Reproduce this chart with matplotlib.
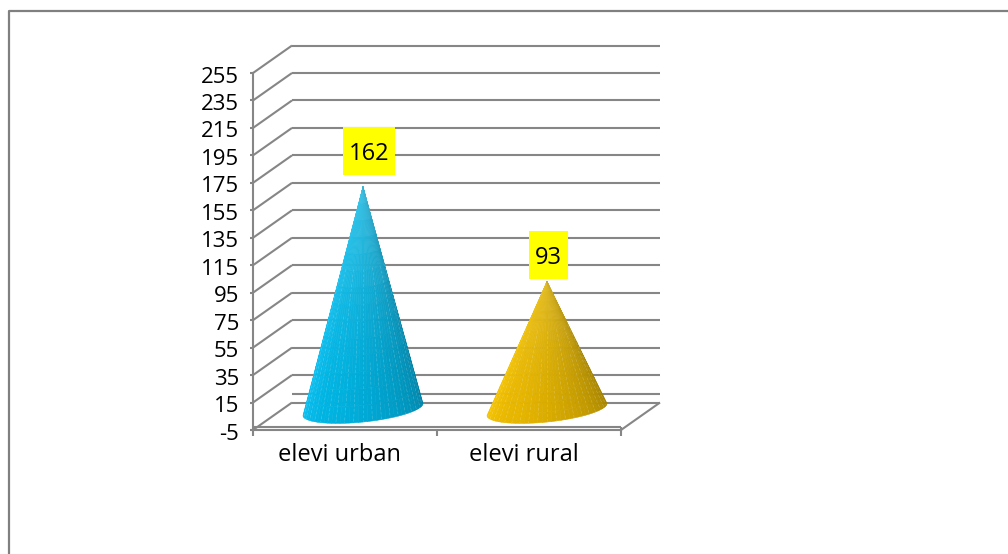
import matplotlib
matplotlib.use("Agg")
import matplotlib.pyplot as plt
import numpy as np
from matplotlib.collections import LineCollection, PolyCollection
from matplotlib.colors import to_rgb
from matplotlib.lines import Line2D
from matplotlib.patches import Rectangle
from matplotlib.transforms import ScaledTranslation

categories = ["elevi urban", "elevi rural"]
values = [162, 93]
y_ticks = [-5, 15, 35, 55, 75, 95, 115, 135, 155, 175, 195, 215, 235, 255]

W, H = 1008, 554
GRAY = "#868686"
FONT = "Open Sans"
SIZE = 16
DX, DY = 39 / 184, 20  # depth of the 3d box, in data units
MID_X = 18 / 184  # cones sit half way into the box
HALF_W, SKEW, HALF_D = 60 / 184, 4.4, 9.2  # base ellipse, data units

plt.rcParams["font.family"] = FONT

fig = plt.figure(figsize=(W / 100, H / 100), dpi=100)
ax = fig.add_axes([253 / W, 1 - 430 / H, 368 / W, 357 / H])
ax.set_xlim(-0.5, 1.5)
ax.set_ylim(-5, 255)
ax.patch.set_visible(False)

for side in ["top", "right"]:
    ax.spines[side].set_visible(False)
for side in ["left", "bottom"]:
    ax.spines[side].set_color(GRAY)
    ax.spines[side].set_linewidth(1.5)

ax.set_yticks(y_ticks)
ax.set_yticklabels([str(v) for v in y_ticks])
ax.set_xticks(range(len(categories)))
ax.set_xticklabels(categories)
ax.set_xticks([-0.5, 0.5, 1.5], minor=True)
ax.tick_params(axis="y", length=2, width=1.5, color=GRAY, labelsize=SIZE, pad=8)
ax.tick_params(axis="x", which="major", length=0, labelsize=17, pad=9.5)
ax.tick_params(axis="x", which="minor", length=4, width=1.5, color=GRAY)
shift_x = ScaledTranslation(-5.5 / 100, 0, fig.dpi_scale_trans)
for lab in ax.get_xticklabels():
    lab.set_transform(lab.get_transform() + shift_x)
shift_y = ScaledTranslation(0, -1.5 / 100, fig.dpi_scale_trans)
for lab in ax.get_yticklabels():
    lab.set_transform(lab.get_transform() + shift_y)


def line(xs, ys, lw=1.5):
    ax.plot(xs, ys, color=GRAY, lw=lw, clip_on=False, zorder=1, solid_capstyle="butt")


# back wall and left wall lines
for v in y_ticks:
    line([-0.5 + DX, 1.5 + DX], [v + DY, v + DY])
    line([-0.5, -0.5 + DX], [v, v + DY])

# floor plate
line([-0.5, 1.5], [-2.6, -2.6])
line([-0.5 + DX, 1.5 + DX], [1.2 + DY, 1.2 + DY])
line([1.5, 1.5 + DX], [-5, -5 + DY])
line([1.5, 1.5], [-5, -2.6])

# cones, built from thin facets split in height bands
cone_cols = [("#0ac0f2", "#00b4e2", "#0083a8", "#5ccbe8"), ("#f7c600", "#e8b700", "#a58300", "#e2c23c")]
t = np.linspace(np.pi, 0, 41)
bands = np.linspace(0, 1, 15)
for i, (val, cc) in enumerate(zip(values, cone_cols)):
    cx = i + MID_X
    apex = np.array([cx, val + DY / 2])
    arc = np.column_stack([cx + HALF_W * np.cos(t), DY / 2 + SKEW * np.cos(t) - HALF_D * np.sin(t)])
    first, mid, dark, tip = [np.array(to_rgb(c)) for c in cc]
    polys, cols = [], []
    for k in range(len(t) - 1):
        f = k / (len(t) - 2)
        if f < 0.25:
            base = first + (mid - first) * f / 0.25
        else:
            base = mid + (dark - mid) * ((f - 0.25) / 0.75) ** 1.4
        for r0, r1 in zip(bands[:-1], bands[1:]):
            p0 = apex + (arc[k] - apex) * r0
            p1 = apex + (arc[k] - apex) * r1
            p2 = apex + (arc[k + 1] - apex) * r1
            p3 = apex + (arc[k + 1] - apex) * r0
            polys.append([p0, p1, p2, p3])
            cols.append(base + (tip - base) * 0.75 * (1 - r1) ** 2)
    ax.add_collection(PolyCollection(polys, facecolors=cols, edgecolors=cols, linewidths=0.4,
                                     clip_on=False, zorder=3))
    # faint dashed seams between facets
    starts = [0.35, 0.75, 0.55]
    seams = []
    for n, pt in enumerate(arc[2:-2:2]):
        r = starts[n % 3]
        seams.append([apex + (pt - apex) * r, pt])
    ax.add_collection(LineCollection(seams, colors="white", linewidths=0.5, alpha=0.2,
                                     linestyles=[(0, (4, 3))], clip_on=False, zorder=4))

# data labels on yellow boxes
label_dx = [6, 1]
label_dy = [26, 18.8]
fig.canvas.draw()
rend = fig.canvas.get_renderer()
inv = ax.transData.inverted()
for i, val in enumerate(values):
    cx = i + MID_X + label_dx[i] / 184
    lab = ax.annotate(str(val), (cx, val + DY / 2), xytext=(0, label_dy[i] - 2), textcoords="offset points",
                      ha="center", va="center", fontsize=17, color="black", zorder=6,
                      annotation_clip=False)
    bb = lab.get_window_extent(rend)
    xc = (bb.x0 + bb.x1) / 2
    yc = (bb.y0 + bb.y1) / 2
    (x0, y0) = inv.transform((xc - bb.width / 2 - 6, yc - 21))
    (x1, y1) = inv.transform((xc + bb.width / 2 + 6, yc + 27))
    ax.add_patch(Rectangle((x0, y0), x1 - x0, y1 - y0, fc="#ffff00", ec="none",
                           clip_on=False, zorder=5))

# chart area border, cut by the image edges
fig.add_artist(Line2D([9 / W, 9 / W, 1], [0, 1 - 11 / H, 1 - 11 / H], color="#808080", lw=1.6))

fig.savefig("out.png", dpi=100)
